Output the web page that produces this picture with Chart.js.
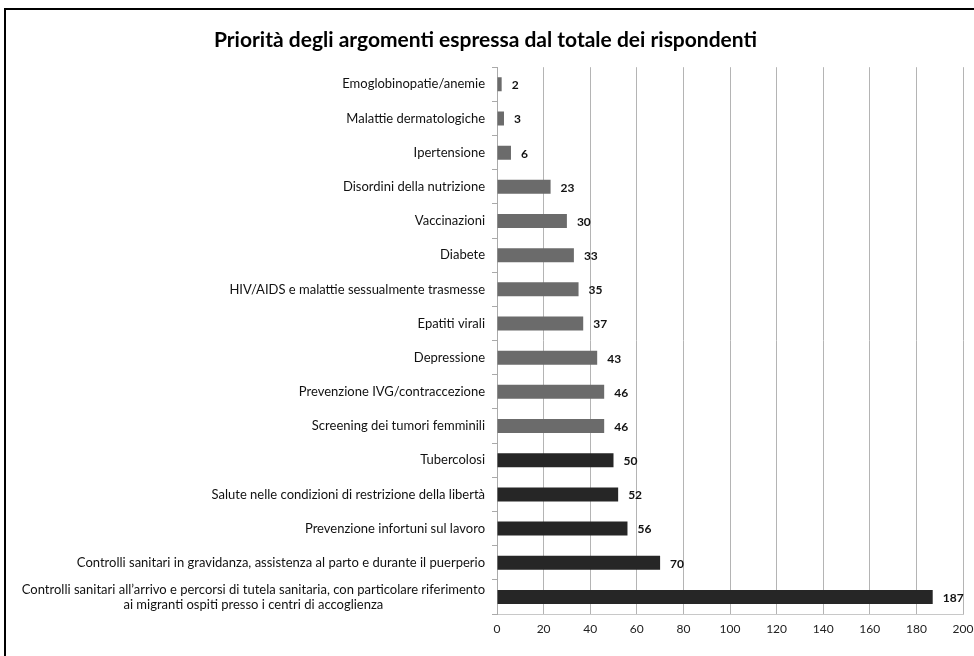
<!DOCTYPE html>
<html>
<head>
<meta charset="utf-8">
<script src="https://cdn.jsdelivr.net/npm/chart.js@4"></script>
<style>
  html, body { margin: 0; padding: 0; background: #fff; overflow: hidden; }
  #wrap { position: relative; width: 974px; height: 656px; overflow: hidden; }
  #frame { position: absolute; left: 4px; top: 8px; width: 1000px; height: 700px; border-left: 2px solid #000; border-top: 2px solid #000; pointer-events: none; }
  canvas { position: absolute; left: 0; top: 0; }
</style>
</head>
<body>
<div id="wrap">
  <canvas id="c" width="974" height="656"></canvas>
  <div id="frame"></div>
</div>
<script>
const titleText = "Priorità degli argomenti espressa dal totale dei rispondenti";
const categories = [
  "Emoglobinopatie/anemie",
  "Malattie dermatologiche",
  "Ipertensione",
  "Disordini della nutrizione",
  "Vaccinazioni",
  "Diabete",
  "HIV/AIDS e malattie sessualmente trasmesse",
  "Epatiti virali",
  "Depressione",
  "Prevenzione IVG/contraccezione",
  "Screening dei tumori femminili",
  "Tubercolosi",
  "Salute nelle condizioni di restrizione della libertà",
  "Prevenzione infortuni sul lavoro",
  "Controlli sanitari in gravidanza, assistenza al parto e durante il puerperio",
  ["Controlli sanitari all\u2019arrivo e percorsi di tutela sanitaria, con particolare riferimento", "ai migranti ospiti presso i centri di accoglienza"]
];
const values = [2, 3, 6, 23, 30, 33, 35, 37, 43, 46, 46, 50, 52, 56, 70, 187];
const groups = ["light","light","light","light","light","light","light","light","light","light","light","dark","dark","dark","dark","dark"];
const xTicks = [0, 20, 40, 60, 80, 100, 120, 140, 160, 180, 200];

const colorMap = { light: "#6b6b6b", dark: "#262626" };
const labelFont = "13px Lato, 'Open Sans', sans-serif";

const customPlugin = {
  id: "custom",
  afterDatasetsDraw(chart) {
    const ctx = chart.ctx;
    const meta = chart.getDatasetMeta(0);
    ctx.save();
    ctx.font = "bold 12px Lato, 'Open Sans', sans-serif";
    ctx.fillStyle = "#111";
    ctx.textAlign = "left";
    ctx.textBaseline = "middle";
    meta.data.forEach((bar, i) => {
      ctx.fillText(String(values[i]), bar.x + 10, bar.y + 1);
    });
    // y labels
    const ys = chart.scales.y;
    ctx.font = labelFont;
    ctx.fillStyle = "#111";
    ctx.textBaseline = "middle";
    const right = ys.right - 12;
    categories.forEach((lab, i) => {
      const y = ys.getPixelForValue(i);
      const lines = Array.isArray(lab) ? lab : [lab];
      const lh = 15;
      if (lines.length === 1) {
        ctx.textAlign = "right";
        ctx.fillText(lines[0], right, y);
      } else {
        const maxW = Math.max(...lines.map(l => ctx.measureText(l).width));
        const cx = right - maxW / 2;
        ctx.textAlign = "center";
        lines.forEach((l, k) => {
          ctx.fillText(l, cx, y + (k - (lines.length - 1) / 2) * lh);
        });
      }
    });
    ctx.restore();
  }
};

new Chart(document.getElementById("c"), {
  type: "bar",
  data: {
    labels: categories,
    datasets: [{
      data: values,
      backgroundColor: groups.map(g => colorMap[g]),
      borderWidth: 0,
      barPercentage: 0.41,
      categoryPercentage: 1.0
    }]
  },
  options: {
    indexAxis: "y",
    responsive: false,
    animation: false,
    devicePixelRatio: 1,
    layout: { padding: { left: 8, right: 11, top: 0, bottom: 12 } },
    plugins: {
      legend: { display: false },
      tooltip: { enabled: false },
      title: {
        display: true,
        text: titleText,
        color: "#000",
        font: { family: "Lato, 'Open Sans', sans-serif", size: 21, weight: "bold" },
        padding: { top: 28, bottom: 14 }
      }
    },
    scales: {
      x: {
        min: 0, max: 200,
        afterBuildTicks(scale) { scale.ticks = xTicks.map(v => ({ value: v })); },
        afterFit(scale) { scale.height = 30; scale.paddingLeft = 0; scale.paddingRight = 0; },
        grid: { color: "#b4b4b4", lineWidth: 1, drawTicks: false },
        border: { display: true, color: "#c8c8c8" },
        ticks: { color: "#222", padding: 8, font: { family: "Lato, 'Open Sans', sans-serif", size: 12 } }
      },
      y: {
        afterFit(scale) { scale.width = 489; },
        grid: { offset: true, drawOnChartArea: false, drawTicks: true, tickLength: 5, color: "#aaaaaa" },
        border: { display: true, color: "#aaaaaa" },
        ticks: { display: false }
      }
    }
  },
  plugins: [customPlugin]
});
</script>
</body>
</html>
